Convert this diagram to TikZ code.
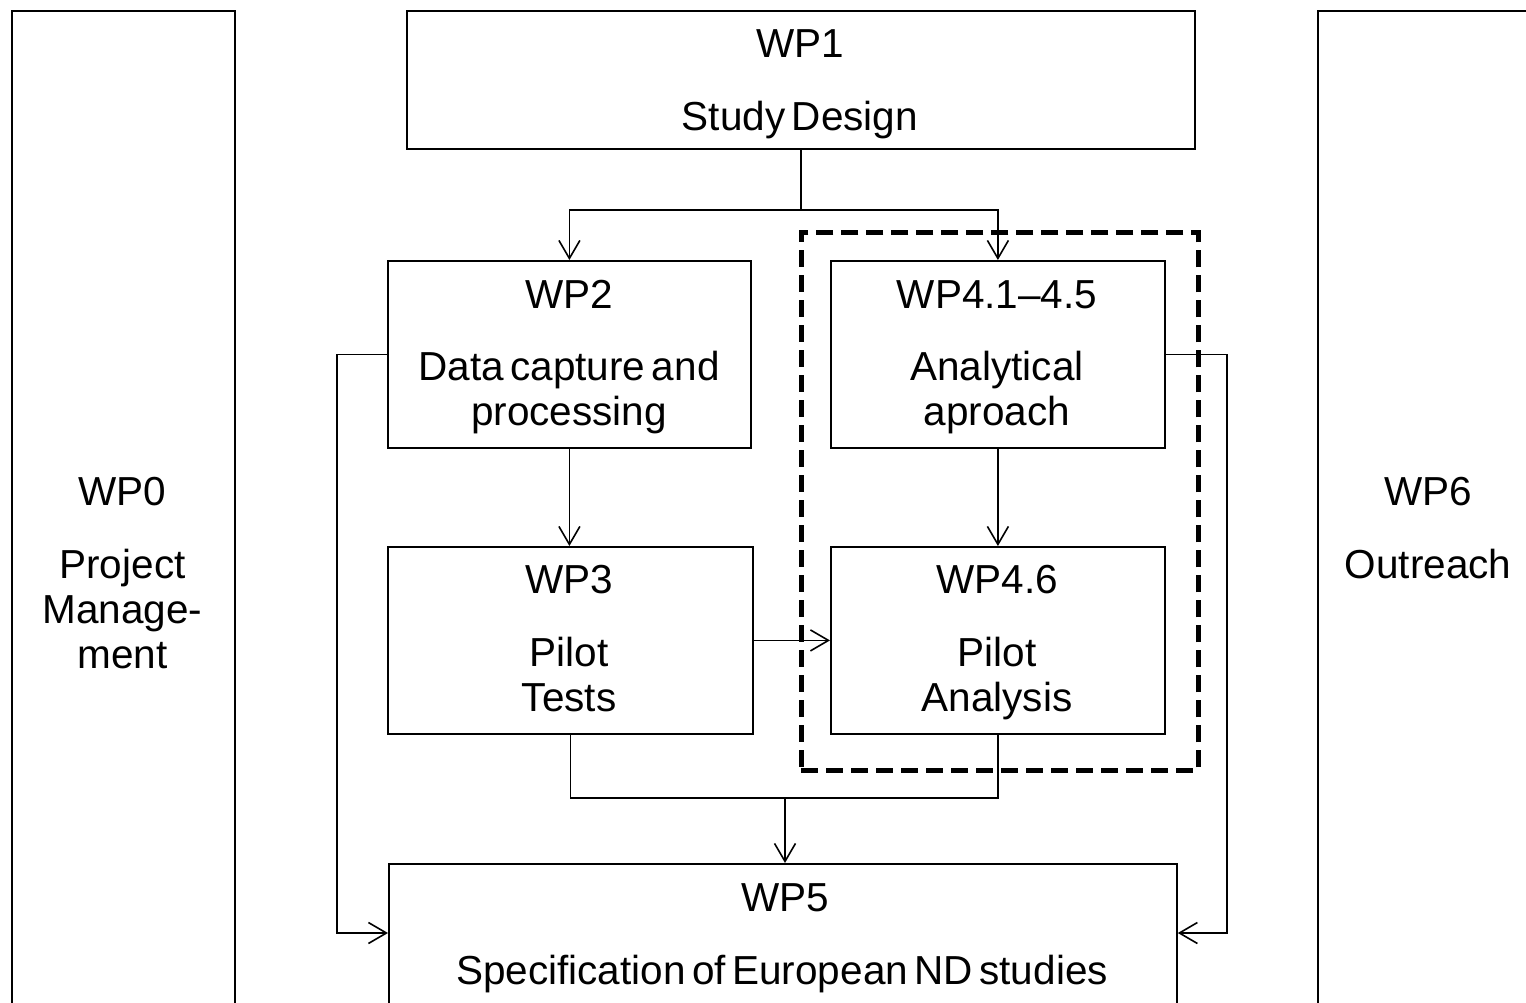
\documentclass[tikz,border=0pt]{standalone}
\usepackage{fontspec}
\setmainfont{Liberation Sans}
\usetikzlibrary{arrows.meta}
% label font: large Arial-like text with narrow word spaces
\newcommand\wplabelfont{\fontsize{40.5}{45}\selectfont\spaceskip 0.16em\relax}
\begin{document}
\begin{tikzpicture}[x=1pt,y=-1pt,
  wpbox/.style={draw, line width=1.8pt, rectangle, inner sep=0pt, anchor=north west},
  txt/.style={anchor=base, inner sep=0pt, font=\wplabelfont},
  link/.style={line width=1.8pt},
  arr/.style={line width=1.8pt, -{Straight Barb[length=18pt,width=21pt,line width=1.6pt]}},
  group/.style={draw, line width=4.5pt, dash pattern=on 17pt off 8pt, rectangle, inner sep=0pt, anchor=north west}]
\useasboundingbox (0,0) rectangle (1526,1002);
\clip (0,0) rectangle (1526,1002);

% side boxes and work packages
\node (wp0)  [wpbox, minimum width=223pt, minimum height=1010pt] at (11,10) {};
\node (wp6)  [wpbox, minimum width=220pt, minimum height=1010pt] at (1317,10) {};
\node (wp1)  [wpbox, minimum width=788pt, minimum height=138pt] at (406,10) {};
\node (wp2)  [wpbox, minimum width=363pt, minimum height=187pt] at (387,260) {};
\node (wp41) [wpbox, minimum width=334pt, minimum height=187pt] at (830,260) {};
\node (wp3)  [wpbox, minimum width=365pt, minimum height=187pt] at (387,546) {};
\node (wp46) [wpbox, minimum width=334pt, minimum height=187pt] at (830,546) {};
\node (wp5)  [wpbox, minimum width=788pt, minimum height=200pt] at (388,863) {};
\node (wp4grp) [group, minimum width=397pt, minimum height=538pt] at (799,230) {};

% labels
\node (t0a) [txt] at (122.5,505) {WP0};
\node (t0b) [txt] at (122.5,578) {Project};
\node (t0c) [txt] at (122.5,623) {Manage-};
\node (t0d) [txt] at (122.5,668) {ment};
\node (t6a) [txt] at (1428,505) {WP6};
\node (t6b) [txt] at (1428,578) {Outreach};
\node (t1a) [txt] at (800,57) {WP1};
\node (t1b) [txt] at (800,130) {Study Design};
\node (t2a) [txt] at (569,308) {WP2};
\node (t2b) [txt] at (569,380) {Data capture and};
\node (t2c) [txt] at (569,425) {processing};
\node (t4a) [txt] at (997,308) {WP4.1–4.5};
\node (t4b) [txt] at (997,380) {Analytical};
\node (t4c) [txt] at (997,425) {aproach};
\node (t3a) [txt] at (569,593) {WP3};
\node (t3b) [txt] at (569,666) {Pilot};
\node (t3c) [txt] at (569,711) {Tests};
\node (t46a) [txt] at (997,593) {WP4.6};
\node (t46b) [txt] at (997,666) {Pilot};
\node (t46c) [txt] at (997,711) {Analysis};
\node (t5a) [txt] at (785,911) {WP5};
\node (t5b) [txt] at (782,984) {Specification of European ND studies};

% connectors
\coordinate (split) at (wp1.south |- 0,210);
\coordinate (merge) at (785,798);
\coordinate (lft) at (337,933);
\coordinate (rgt) at (1227,933);
\draw[link] (wp1.south) -- (split);
\draw[arr] (split) -| (wp2.north);
\draw[arr] (split) -| (wp41.north);
\draw[arr] (wp2.south) -- (wp2.south |- wp3.north);
\draw[arr] (wp41.south) -- (wp46.north);
\draw[arr] (wp3.east) -- (wp3.east -| wp46.west);
\draw[link] (wp3.south) |- (wp46.south |- merge) -- (wp46.south);
\draw[arr] (merge) -- (merge |- wp5.north);
\draw[arr] (wp2.west) -| (lft) -- (lft -| wp5.west);
\draw[arr] (wp41.east) -| (rgt) -- (rgt -| wp5.east);
\end{tikzpicture}
\end{document}
